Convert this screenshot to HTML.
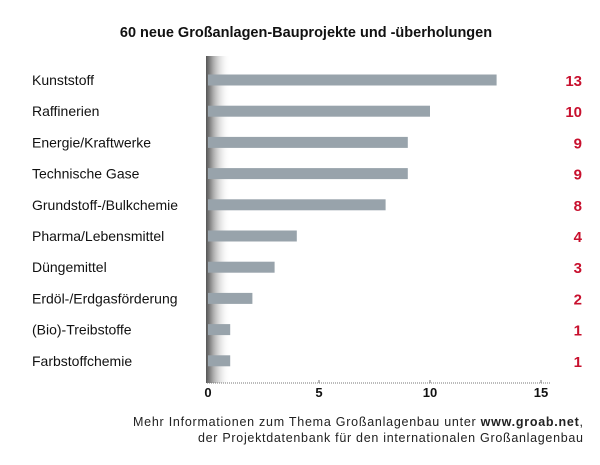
<!DOCTYPE html>
<html><head><meta charset="utf-8"><style>
body{margin:0;background:#fff;width:600px;height:460px;overflow:hidden;font-family:"Liberation Sans","DejaVu Sans",sans-serif}
</style></head><body>
<svg width="600" height="460">
<defs><linearGradient id="sh" x1="0" x2="1"><stop offset="0" stop-color="#555"/><stop offset="0.3" stop-color="#aaa"/><stop offset="1" stop-color="#fff" stop-opacity="0"/></linearGradient></defs>
<text x="306" y="37" text-anchor="middle" font-size="14.5" font-weight="bold" fill="#111">60 neue Großanlagen-Bauprojekte und -überholungen</text>
<rect x="206" y="56" width="24" height="327" fill="url(#sh)"/>
<g id="bars"></g>
<line x1="207" y1="383" x2="550" y2="383" stroke="#777" stroke-dasharray="1,1"/>
<g id="ticks"></g>
<text x="583" y="426" text-anchor="end" font-size="12.5" fill="#222" textLength="450">Mehr Informationen zum Thema Großanlagenbau unter <tspan font-weight="bold">www.groab.net</tspan>,</text>
<text x="583" y="442" text-anchor="end" font-size="12.5" fill="#222" textLength="385">der Projektdatenbank für den internationalen Großanlagenbau</text>
</svg>
<script>
const categories=["Kunststoff","Raffinerien","Energie/Kraftwerke","Technische Gase","Grundstoff-/Bulkchemie","Pharma/Lebensmittel","Düngemittel","Erdöl-/Erdgasförderung","(Bio)-Treibstoffe","Farbstoffchemie"];
const values=[13,10,9,9,8,4,3,2,1,1];
const tickLabels=[0,5,10,15];
const NS="http://www.w3.org/2000/svg";
const x=v=>208+v*(333/15);
const y=i=>80+i*31.2;
const bars=document.getElementById('bars');
function mk(t,a,p){const e=document.createElementNS(NS,t);for(const k in a)e.setAttribute(k,a[k]);p.appendChild(e);return e;}
categories.forEach((c,i)=>{
 const r=mk('rect',{x:x(0),y:y(i)-5.5,width:x(values[i])-x(0),height:11,fill:'#98a3ab'},bars);
 
 
 const l=mk('text',{x:32,y:y(i)+5,'font-size':14,fill:'#111'},bars);l.textContent=c;
 
 
 const v=mk('text',{x:582,y:y(i)+6,'font-size':15,'font-weight':'bold',fill:'#c8102e','text-anchor':'end'},bars);v.textContent=values[i];
 
 
});
const tk=document.getElementById('ticks');
tickLabels.forEach(t=>{
 const l=mk('line',{x1:x(t),x2:x(t),y1:380,y2:383,stroke:'#777'},tk);
 
 
 const s=mk('text',{x:x(t),y:397,'font-size':13,'font-weight':'bold','text-anchor':'middle',fill:'#111'},tk);s.textContent=t;
 
 
});
</script>
</body></html>
